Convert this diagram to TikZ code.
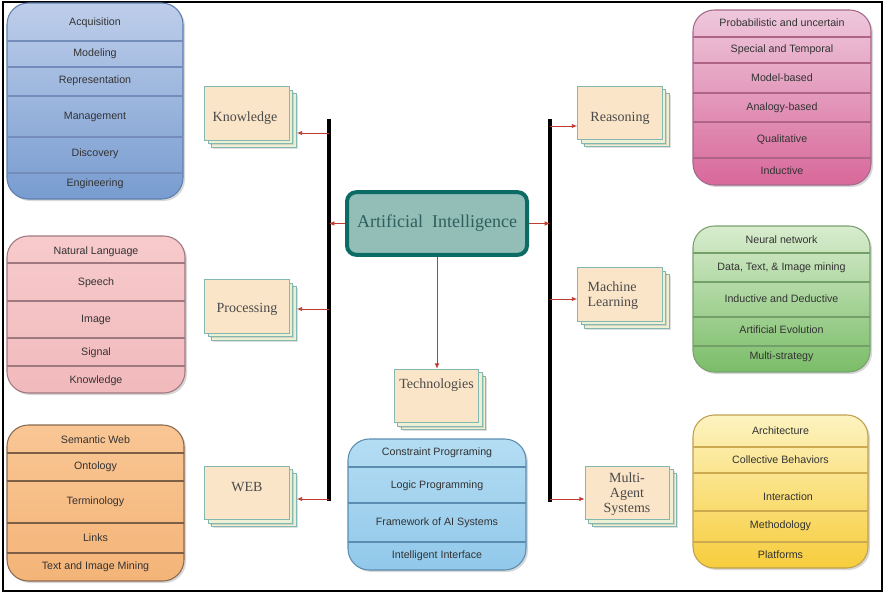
\documentclass[tikz,border=0pt]{standalone}
\usepackage{fontspec}
\setmainfont{Liberation Serif}
\setsansfont{Liberation Sans}
\usetikzlibrary{arrows.meta,shadows,calc}
\definecolor{arrred}{HTML}{C23B32}
\definecolor{sheetfill}{HTML}{FBE5C8}
\definecolor{sheetback}{HTML}{EEF0D6}
\definecolor{sheetdraw}{HTML}{82B8B0}
\definecolor{aifill}{HTML}{93BDB7}
\definecolor{aidraw}{HTML}{0D6B66}
\definecolor{aitext}{HTML}{2F5F5D}
\definecolor{itemtext}{HTML}{333333}
\definecolor{sheettext}{HTML}{4A4A4A}
\definecolor{kdraw}{HTML}{5F7FAE}
\tikzset{
  panel/.style={rounded corners=16pt, line width=0.8pt, inner sep=0pt,
    drop shadow={shadow xshift=1.5pt, shadow yshift=-1.5pt, opacity=0.3}},
  sepl/.style={line width=0.8pt},
  item/.style={font=\sffamily\fontsize{8}{9.5}\selectfont, text=itemtext, inner sep=1pt},
  sheet/.style={rectangle, draw=sheetdraw, fill=sheetfill, line width=0.8pt,
    minimum width=63.5pt, minimum height=40pt, inner sep=0pt},
  backsheet/.style={sheet, fill=sheetback,
    drop shadow={shadow xshift=1.2pt, shadow yshift=-1.2pt, opacity=0.25}},
  stext/.style={font=\fontsize{10.5}{11.25}\selectfont, text=sheettext, inner sep=1pt},
  arr/.style={draw=arrred, line width=0.7pt, -{Latex[length=4pt,width=3.5pt]}},
  barline/.style={line width=2.3pt, black},
}
\newcommand\sheetstack[3]{%
  \node[backsheet] (#1-3) at (#2+7,#3+7) {};
  \node[backsheet] (#1-2) at (#2+3.5,#3+3.5) {};
  \node[sheet] (#1) at (#2,#3) {};}
\begin{document}
\begin{tikzpicture}[x=0.75pt,y=-0.75pt]
\useasboundingbox (0,0) rectangle (885,594);
\fill[white] (0,0) rectangle (885,594);
\draw[line width=2pt] (3,2) rectangle (882,591);

% ---------- Knowledge panel ----------
\node[panel, draw=kdraw, top color={rgb,255:red,190;green,206;blue,234}, bottom color={rgb,255:red,120;green,156;blue,208},
  minimum width=132pt, minimum height=147pt] (kp) at (95,101) {};
\foreach \yy in {41,67,96,137,173} \draw[sepl, color={rgb,255:red,115;green,140;blue,185}] (7,\yy) -- (183,\yy);
\node[item] (k1) at (95,23) {Acquisition};
\node[item] (k2) at (95,54) {Modeling};
\node[item] (k3) at (95,81) {Representation};
\node[item] (k4) at (95,117) {Management};
\node[item] (k5) at (95,154) {Discovery};
\node[item] (k6) at (95,184) {Engineering};

% ---------- Processing panel ----------
\node[panel, draw={rgb,255:red,160;green,120;blue,128}, top color={rgb,255:red,247;green,202;blue,203}, bottom color={rgb,255:red,241;green,186;blue,189},
  minimum width=133.5pt, minimum height=117.75pt] (pp) at (96,314.5) {};
\foreach \yy in {263,301,338,366} \draw[sepl, color={rgb,255:red,160;green,120;blue,128}] (7,\yy) -- (185,\yy);
\node[item] (p1) at (96,252) {Natural Language};
\node[item] (p2) at (96,283) {Speech};
\node[item] (p3) at (96,320) {Image};
\node[item] (p4) at (96,353) {Signal};
\node[item] (p5) at (96,381) {Knowledge};

% ---------- WEB panel ----------
\node[panel, draw={rgb,255:red,138;green,106;blue,80}, top color={rgb,255:red,249;green,198;blue,148}, bottom color={rgb,255:red,244;green,180;blue,120},
  minimum width=132.75pt, minimum height=117pt] (wp) at (95.5,503) {};
\foreach \yy in {453,481,523,553} \draw[sepl, color={rgb,255:red,125;green,95;blue,70}] (7,\yy) -- (184,\yy);
\node[item] (w1) at (95.5,440) {Semantic Web};
\node[item] (w2) at (95.5,467) {Ontology};
\node[item] (w3) at (95.5,502) {Terminology};
\node[item] (w4) at (95.5,538) {Links};
\node[item] (w5) at (95.5,567) {Text and Image Mining};

% ---------- Technologies panel ----------
\node[panel, draw={rgb,255:red,91;green,141;blue,176}, top color={rgb,255:red,180;green,221;blue,243}, bottom color={rgb,255:red,145;green,200;blue,234},
  minimum width=133.5pt, minimum height=98.25pt] (tp) at (437,504.5) {};
\foreach \yy in {467,503,542} \draw[sepl, color={rgb,255:red,91;green,141;blue,176}] (348,\yy) -- (526,\yy);
\node[item] (t1) at (437,453) {Constraint Progrraming};
\node[item] (t2) at (437,486) {Logic Programming};
\node[item] (t3) at (437,523) {Framework of AI Systems};
\node[item] (t4) at (437,556) {Intelligent Interface};

% ---------- Reasoning panel ----------
\node[panel, draw={rgb,255:red,165;green,105;blue,138}, top color={rgb,255:red,238;green,200;blue,220}, bottom color={rgb,255:red,216;green,104;blue,154},
  minimum width=133.5pt, minimum height=131.25pt] (rp) at (782,97.5) {};
\foreach \yy in {37,63,93,122,158} \draw[sepl, color={rgb,255:red,175;green,100;blue,135}] (693,\yy) -- (871,\yy);
\node[item] (r1) at (782,23) {Probabilistic and uncertain};
\node[item] (r2) at (782,50) {Special and Temporal};
\node[item] (r3) at (782,78) {Model-based};
\node[item] (r4) at (782,108) {Analogy-based};
\node[item] (r5) at (782,140) {Qualitative};
\node[item] (r6) at (782,171) {Inductive};

% ---------- Machine Learning panel ----------
\node[panel, draw={rgb,255:red,122;green,160;blue,112}, top color={rgb,255:red,216;green,236;blue,206}, bottom color={rgb,255:red,122;green,189;blue,104},
  minimum width=132.75pt, minimum height=109.5pt] (mp) at (781.5,299) {};
\foreach \yy in {253,282,317,346} \draw[sepl, color={rgb,255:red,115;green,160;blue,105}] (693,\yy) -- (870,\yy);
\node[item] (m1) at (781.5,240) {Neural network};
\node[item] (m2) at (781.5,268) {Data, Text, \& Image mining};
\node[item] (m3) at (781.5,299) {Inductive and Deductive};
\node[item] (m4) at (781.5,330) {Artificial Evolution};
\node[item] (m5) at (781.5,357) {Multi-strategy};

% ---------- Multi-Agent panel ----------
\node[panel, draw={rgb,255:red,192;green,160;blue,80}, top color={rgb,255:red,253;green,243;blue,192}, bottom color={rgb,255:red,247;green,205;blue,60},
  minimum width=131.25pt, minimum height=114.75pt] (ap) at (780.5,491.5) {};
\foreach \yy in {447,473,511,542} \draw[sepl, color={rgb,255:red,205;green,170;blue,80}] (693,\yy) -- (868,\yy);
\node[item] (a1) at (780.5,431) {Architecture};
\node[item] (a2) at (780.5,460) {Collective Behaviors};
\node[item] (a3) at (788,497) {Interaction};
\node[item] (a4) at (780.5,526) {Methodology};
\node[item] (a5) at (780.5,555) {Platforms};

% ---------- sheet stacks ----------
\sheetstack{kn}{247}{113.5}
\node[stext] (kntxt) at (245,118) {Knowledge};
\sheetstack{pr}{247}{306.5}
\node[stext] (prtxt) at (247,309) {Processing};
\sheetstack{wb}{247}{493}
\node[stext] (wbtxt) at (247,487) {WEB};
\sheetstack{re}{620}{113}
\node[stext] (retxt) at (620,118) {Reasoning};
\sheetstack{ml}{620}{294.5}
\node[stext, anchor=west, align=left] (mltxt) at (586,295.5) {Machine\\Learning};
\sheetstack{ma}{627.5}{493}
\node[stext, align=center] (matxt) at (627,494) {Multi-\\Agent\\Systems};
\sheetstack{te}{436.5}{396}
\node[stext] (tetxt) at (436.5,385) {Technologies};

% ---------- central node ----------
\node[rectangle, rounded corners=7pt, draw=aidraw, line width=3pt, fill=aifill,
  minimum width=135pt, minimum height=47pt, text=aitext,
  font=\fontsize{13.5}{15}\selectfont,
  drop shadow={shadow xshift=1.2pt, shadow yshift=-1.2pt, opacity=0.3}] (ai) at (437,223.5) {Artificial\ \ Intelligence};

% ---------- bars ----------
\coordinate (lbt) at (329,119);
\coordinate (lbb) at (329,501);
\coordinate (rbt) at (550,119);
\coordinate (rbb) at (550,502);
\draw[barline] (lbt) -- (lbb);
\draw[barline] (rbt) -- (rbb);

% ---------- connectors ----------
\draw[arr] (ai.west) -- (ai.west -| lbt);
\draw[arr] (ai.east) -- (ai.east -| rbt);
\draw[arr] (ai.south) -- (ai.south |- te.north);

\coordinate (kb) at (329,133);
\coordinate (pb) at (329,309);
\coordinate (wbb) at (329,499);
\draw[arr] (kb) -- (kb -| kn-3.east);
\draw[arr] (pb) -- (pb -| pr-3.east);
\draw[arr] (wbb) -- (wbb -| wb-3.east);

\coordinate (rb) at (550,126);
\coordinate (mb) at (550,299);
\coordinate (ab) at (550,499);
\draw[arr] (rb) -- (rb -| re.west);
\draw[arr] (mb) -- (mb -| ml.west);
\draw[arr] (ab) -- (ab -| ma.west);
\end{tikzpicture}
\end{document}
